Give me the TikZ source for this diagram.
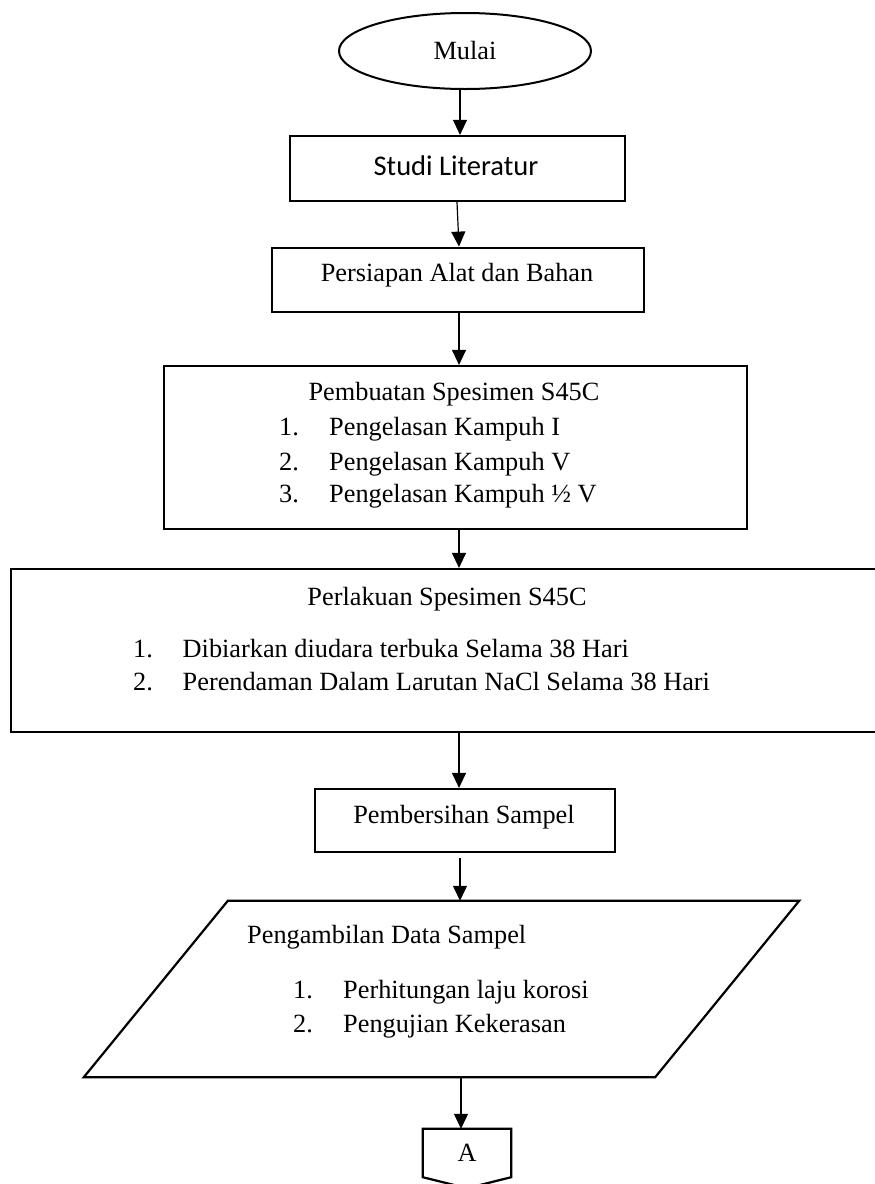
\documentclass[tikz,border=0pt]{standalone}
\usepackage{fontspec}
\setmainfont{Liberation Serif}
\newfontfamily\calfont{Carlito}
\usetikzlibrary{arrows.meta,shapes.geometric,calc}
\begin{document}
\begin{tikzpicture}[x=1pt,y=-1pt,
  every node/.style={inner sep=0pt},
  box/.style={draw, line width=2.2pt, rectangle},
  arr/.style={draw, line width=1.2pt, -{Triangle[length=15pt,width=14pt]}},
  tx/.style={font=\fontsize{26.3}{30}\selectfont, anchor=base},
  txl/.style={tx, anchor=base west}]
\useasboundingbox (0,0) rectangle (875,1184);
% start
\node[ellipse, draw, line width=2pt, minimum width=252pt, minimum height=76pt,
      font=\fontsize{26.3}{30}\selectfont] (mulai) at (465,51) {Mulai};
% studi literatur
\node[box, minimum width=335pt, minimum height=65pt] (studi) at (457.5,168.5) {};
\node[tx, font=\calfont\fontsize{28.5}{32}\selectfont] (studiT) at (456,175) {Studi Literatur};
% persiapan
\node[box, minimum width=372pt, minimum height=64pt] (pers) at (458,279.7) {};
\node[tx] (persT) at (457,281.7) {Persiapan Alat dan Bahan};
% pembuatan
\node[box, minimum width=583pt, minimum height=163pt] (pemb) at (455.5,447.5) {};
\node[tx] (pembT) at (454,400) {Pembuatan Spesimen S45C};
\node[txl] (pembN1) at (279,435) {1.};
\node[txl] (pembI1) at (329,435) {Pengelasan Kampuh I};
\node[txl] (pembN2) at (279,470) {2.};
\node[txl] (pembI2) at (329,470) {Pengelasan Kampuh V};
\node[txl] (pembN3) at (279,502) {3.};
\node[txl] (pembI3) at (329,502) {Pengelasan Kampuh ½ V};
% perlakuan
\node[box, minimum width=898pt, minimum height=163pt] (perl) at (460,650.5) {};
\node[tx] (perlT) at (447,605) {Perlakuan Spesimen S45C};
\node[txl] (perlN1) at (133,657) {1.};
\node[txl] (perlI1) at (182.5,657) {Dibiarkan diudara terbuka Selama 38 Hari};
\node[txl] (perlN2) at (133,690) {2.};
\node[txl] (perlI2) at (182.5,690) {Perendaman Dalam Larutan NaCl Selama 38 Hari};
% pembersihan
\node[box, minimum width=300pt, minimum height=63pt] (bers) at (465,820.5) {};
\node[tx] (bersT) at (464,823) {Pembersihan Sampel};
% data (parallelogram)
\node[minimum width=715pt, minimum height=176pt] (data) at (441.5,989) {};
\draw[line width=2.2pt] (data.south west) -- ($(data.north west)+(144,0)$) -- (data.north east)
      -- ($(data.south east)+(-144,0)$) -- cycle;
\node[txl] (dataT) at (247,943) {Pengambilan Data Sampel};
\node[txl] (dataN1) at (293,998) {1.};
\node[txl] (dataI1) at (343,998) {Perhitungan laju korosi};
\node[txl] (dataN2) at (293,1032) {2.};
\node[txl] (dataI2) at (343,1032) {Pengujian Kekerasan};
% off-page connector
\node[font=\fontsize{26.3}{30}\selectfont, minimum width=88pt, minimum height=48pt] (A) at (467,1153) {A};
\draw[line width=2.2pt] (A.south west) -- (A.north west) -- (A.north east) -- (A.south east)
      -- ($(A.south)+(0,11)$) -- cycle;
% connectors
\draw[arr] ([xshift=-5pt]mulai.south) -- ([xshift=2.5pt]studi.north);
\draw[arr] ([xshift=-0.5pt]studi.south) -- ([xshift=1pt]pers.north);
\draw[arr] ([xshift=1pt]pers.south) -- ([xshift=3.5pt]pemb.north);
\draw[arr] ([xshift=3.5pt]pemb.south) -- ([xshift=-1pt]perl.north);
\draw[arr] ([xshift=-1pt]perl.south) -- ([xshift=-6pt]bers.north);
\draw[arr] ([xshift=-5pt,yshift=-5pt]bers.south) -- ([xshift=18.5pt]data.north);
\draw[arr] ([xshift=19.5pt]data.south) -- ([xshift=-6pt]A.north);
\end{tikzpicture}
\end{document}
